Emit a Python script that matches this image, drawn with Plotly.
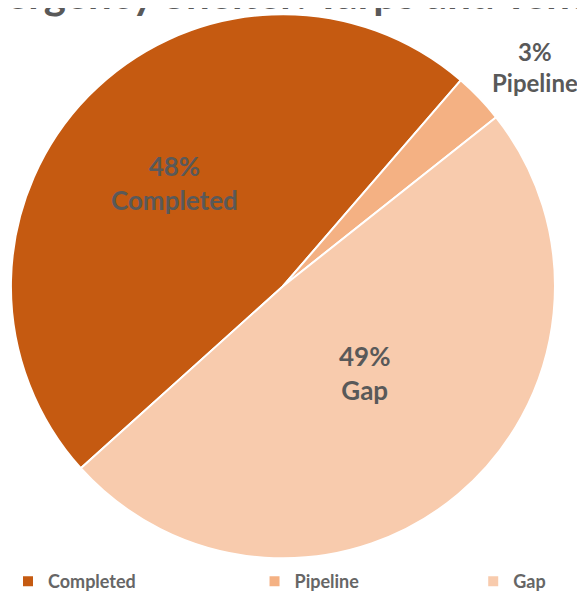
import plotly.graph_objects as go

categories = ["Completed", "Pipeline", "Gap"]
values = [48, 3, 49]
colors = ["#C55A11", "#F4B183", "#F8CBAD"]
title_text = "Emergency Shelter: Tarps and Tents"

# label anchor positions (paper coords) for slice labels
label_x = [0.285, 0.9, 0.61]
label_y = [0.704, 0.9, 0.383]

# legend spacing padding (non-breaking spaces after each legend name)
legend_pad = [26, 25, 0]
legend_labels = [c + "\u00a0" * p for c, p in zip(categories, legend_pad)]

texts = [f"{v}%<br>{c}" for v, c in zip(values, categories)]
FONT = "Lato, Open Sans, sans-serif"

fig = go.Figure(go.Pie(
    labels=legend_labels,
    values=values,
    sort=False,
    direction="clockwise",
    rotation=228,
    marker=dict(colors=colors, line=dict(color="white", width=2)),
    textinfo="none",
    domain=dict(x=[0.005, 0.935], y=[0.0705, 0.9895]),
    hovertemplate="%{label}: %{percent}<extra></extra>",
))

for i, (t, x, y) in enumerate(zip(texts, label_x, label_y)):
    fig.add_annotation(
        text=t, x=x, y=y, xref="paper", yref="paper",
        xanchor="center", yanchor="middle",
        showarrow=False, align="center",
        font=dict(family=FONT, size=24 if i == 1 else 26, color="#595959", weight="bold"),
    )

fig.add_annotation(
    text=title_text, x=0.458, y=0.98, xref="paper", yref="paper",
    yanchor="bottom", xanchor="center", showarrow=False,
    font=dict(family=FONT, size=42, color="#595959", weight="bold"),
)

fig.update_layout(
    width=585, height=592,
    margin=dict(l=0, r=0, t=0, b=0),
    paper_bgcolor="white",
    showlegend=True,
    legend=dict(
        orientation="h", x=0.0, y=0.0, xanchor="left", yanchor="bottom",
        font=dict(family=FONT, size=18, color="#666666", weight="bold"),
    ),
)

fig.write_html("out.html")
